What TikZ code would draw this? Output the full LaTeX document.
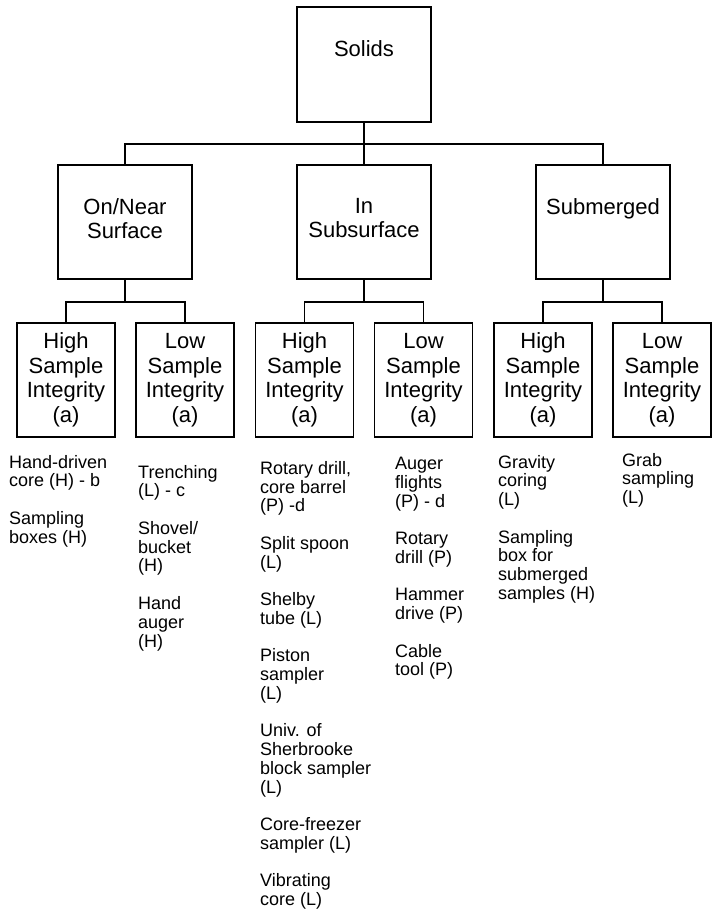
\documentclass[tikz,border=0pt]{standalone}
\usepackage{fontspec}
\setmainfont{Liberation Sans}
\begin{document}
\begin{tikzpicture}[x=1pt, y=-1pt,
    box/.style={draw, line width=1.8pt, minimum width=134pt, minimum height=114pt, inner sep=0pt},
    leaf/.style={draw, line width=1.8pt, minimum width=98pt, minimum height=114pt, inner sep=0pt,
        align=center, font=\fontsize{22}{24.5}\selectfont},
    boxtext/.style={anchor=north, inner sep=0pt, align=center, yshift=-34pt,
        font=\fontsize{22}{24.5}\selectfont},
    list/.style={anchor=north west, inner sep=0pt, align=left, font=\fontsize{18}{18.75}\selectfont},
    link/.style={line width=1.5pt}]
    \useasboundingbox (0,0) rectangle (713,909);

    % Draw top node
    \node[box, minimum height=115pt, label={[boxtext]north:Solids}] (solids) at (364,64.5) {};

    % Draw nodes for the three settings
    \node[box, label={[boxtext]north:{On/Near\\Surface}}] (near) at (125,222) {};
    \node[box, label={[boxtext]north:{In\\Subsurface}}] (insub) at (364,222) {};
    \node[box, label={[boxtext]north:Submerged}] (subm) at (603,222) {};

    % Draw nodes for sample integrity
    \node[leaf] (nearhi) at (66,380) {High\\Sample\\Integrity\\(a)};
    \node[leaf] (nearlo) at (185,380) {Low\\Sample\\Integrity\\(a)};
    \node[leaf] (insubhi) at (304.5,380) {High\\Sample\\Integrity\\(a)};
    \node[leaf] (insublo) at (423.5,380) {Low\\Sample\\Integrity\\(a)};
    \node[leaf] (submhi) at (543,380) {High\\Sample\\Integrity\\(a)};
    \node[leaf] (submlo) at (662,380) {Low\\Sample\\Integrity\\(a)};

    % Draw bus points
    \coordinate (bustop) at (364,144);
    \coordinate (busnear) at (125,302);
    \coordinate (businsub) at (364,302);
    \coordinate (bussubm) at (603,302);

    % Draw edges
    \draw[link] (solids.south) -- (bustop);
    \draw[link] (bustop) -| (near.north);
    \draw[link] (bustop) -- (insub.north);
    \draw[link] (bustop) -| (subm.north);

    \draw[link] (near.south) -- (busnear);
    \draw[link] (busnear) -| (nearhi.north);
    \draw[link] (busnear) -| (nearlo.north);
    \draw[link] (insub.south) -- (businsub);
    \draw[link] (businsub) -| (insubhi.north);
    \draw[link] (businsub) -| (insublo.north);
    \draw[link] (subm.south) -- (bussubm);
    \draw[link] (bussubm) -| (submhi.north);
    \draw[link] (bussubm) -| (submlo.north);

    % Draw sampling methods
    \node[list] (nearhimeth) at (9,455) {Hand-driven\\core (H) - b\\[18.75pt]Sampling\\boxes (H)};
    \node[list] (nearlometh) at (138,465) {Trenching\\(L) - c\\[18.75pt]Shovel/\\bucket\\(H)\\[18.75pt]Hand\\auger\\(H)};
    \node[list] (insubhimeth) at (260,461) {Rotary drill,\\core barrel\\(P) -d\\[18.75pt]Split spoon\\(L)\\[18.75pt]Shelby\\tube (L)\\[18.75pt]Piston\\sampler\\(L)\\[18.75pt]Univ. of\\Sherbrooke\\block sampler\\(L)\\[18.75pt]Core-freezer\\sampler (L)\\[18.75pt]Vibrating\\core (L)};
    \node[list] (insublometh) at (395,457) {Auger\\flights\\(P) - d\\[18.75pt]Rotary\\drill (P)\\[18.75pt]Hammer\\drive (P)\\[18.75pt]Cable\\tool (P)};
    \node[list] (submhimeth) at (498,455) {Gravity\\coring\\(L)\\[18.75pt]Sampling\\box for\\submerged\\samples (H)};
    \node[list] (submlometh) at (622,453) {Grab\\sampling\\(L)};
\end{tikzpicture}
\end{document}
